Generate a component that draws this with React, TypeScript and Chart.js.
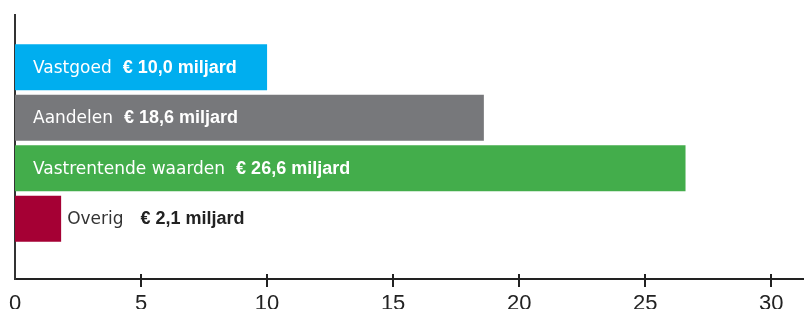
import React, { useEffect, useRef } from 'react';
import { Chart, registerables } from 'chart.js';

Chart.register(...registerables);

const categories = ['Vastgoed', 'Aandelen', 'Vastrentende waarden', 'Overig'];
const positions = [1, 2, 3, 4];
const values = [10.0, 18.6, 26.6, 1.83];
const valueLabels = ['€ 10,0 miljard', '€ 18,6 miljard', '€ 26,6 miljard', '€ 2,1 miljard'];
const colors = ['#00aeef', '#77787b', '#43ad4b', '#a50034'];
const xTicks = [0, 5, 10, 15, 20, 25, 30];

const NAME_FONT = '17px "DejaVu Sans"';
const VALUE_FONT = 'bold 18px "Liberation Sans"';

const barLabels = {
  id: 'barLabels',
  afterDatasetsDraw(chart: any) {
    const meta = chart.getDatasetMeta(0);
    const ctx = chart.ctx;
    ctx.save();
    ctx.textBaseline = 'alphabetic';
    ctx.textAlign = 'left';
    meta.data.forEach((bar: any, i: number) => {
      const { x, y, base } = bar.getProps(['x', 'y', 'base'], true);
      ctx.font = NAME_FONT;
      const nameW = ctx.measureText(categories[i]).width;
      ctx.font = VALUE_FONT;
      const valW = ctx.measureText(valueLabels[i]).width;
      const inside = base + 18 + nameW + 11 + valW + 8 < x;
      const tx = inside ? base + 18 : x + 6;
      const gap = inside ? 11 : 17;
      ctx.font = NAME_FONT;
      ctx.fillStyle = inside ? '#ffffff' : '#333333';
      ctx.fillText(categories[i], tx, y + 5.5);
      ctx.font = VALUE_FONT;
      ctx.fillStyle = inside ? '#ffffff' : '#222222';
      ctx.fillText(valueLabels[i], tx + nameW + gap, y + 5.5);
    });
    ctx.restore();
  },
};

const tickMarks = {
  id: 'tickMarks',
  afterDraw(chart: any) {
    const s = chart.scales.x;
    const ctx = chart.ctx;
    ctx.save();
    ctx.strokeStyle = '#222222';
    ctx.lineWidth = 2;
    s.ticks.forEach((t: any) => {
      if (t.value === 0) return;
      const px = Math.round(s.getPixelForValue(t.value));
      ctx.beginPath();
      ctx.moveTo(px, s.top - 5);
      ctx.lineTo(px, s.top + 8);
      ctx.stroke();
    });
    ctx.restore();
  },
};

export default function App() {
  const ref = useRef<HTMLCanvasElement>(null);
  useEffect(() => {
    if (!ref.current) return;
    const chart = new Chart(ref.current, {
      type: 'bar',
      data: {
        datasets: [
          {
            data: positions.map((p, i) => ({ x: values[i], y: p })),
            backgroundColor: colors,
            borderWidth: 0,
            barPercentage: 0.91,
            categoryPercentage: 1,
          } as any,
        ],
      },
      options: {
        indexAxis: 'y',
        animation: false,
        responsive: true,
        maintainAspectRatio: false,
        layout: { padding: { left: 15, top: 15, right: 0, bottom: 0 } },
        plugins: { legend: { display: false }, tooltip: { enabled: false } },
        scales: {
          x: {
            type: 'linear',
            min: 0,
            max: 31.3,
            afterBuildTicks: (s: any) => {
              s.ticks = xTicks.map((v) => ({ value: v }));
            },
            afterFit: (s: any) => {
              s.height = 30;
              s.paddingLeft = 0;
              s.paddingRight = 0;
            },
            grid: { display: false, drawOnChartArea: false, drawTicks: false },
            border: { display: true, color: '#222222', width: 2 },
            ticks: {
              padding: 12,
              color: '#222222',
              font: { family: 'Liberation Sans', size: 22 },
              callback: (v: any) => String(v),
            },
          },
          y: {
            type: 'linear',
            reverse: true,
            offset: false,
            min: -0.033,
            max: 5.19,
            afterFit: (s: any) => {
              s.width = 0;
              s.paddingTop = 0;
              s.paddingBottom = 0;
            },
            grid: { display: false, offset: false, drawOnChartArea: false, drawTicks: false },
            border: { display: true, color: '#333333', width: 2 },
            ticks: { display: false },
          },
        },
      },
      plugins: [barLabels, tickMarks],
    });
    return () => chart.destroy();
  }, []);
  return (
    <div style={{ position: 'absolute', left: 0, top: 0, width: 804, height: 309 }}>
      <canvas ref={ref} />
    </div>
  );
}
